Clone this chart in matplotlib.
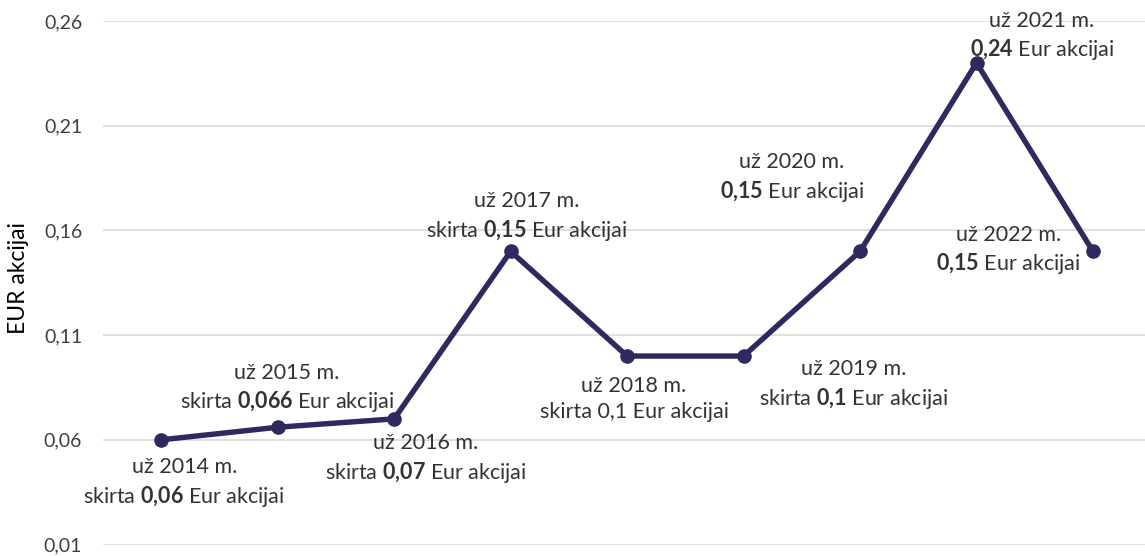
import matplotlib
matplotlib.use("Agg")
import matplotlib.pyplot as plt

plt.rcParams['font.family'] = ['Lato', 'DejaVu Sans']
plt.rcParams['mathtext.fontset'] = 'custom'
plt.rcParams['mathtext.rm'] = 'Lato'
plt.rcParams['mathtext.bf'] = 'Lato:bold'

years = ["2014", "2015", "2016", "2017", "2018", "2019", "2020", "2021", "2022"]
values = [0.06, 0.066, 0.07, 0.15, 0.10, 0.10, 0.15, 0.24, 0.15]
value_text = ["0,06", "0,066", "0,07", "0,15", "0,1", "0,1", "0,15", "0,24", "0,15"]
bold_value = [True, True, True, True, False, True, True, True, True]
has_skirta = [True, True, True, True, True, True, False, False, False]
yticks = [0.01, 0.06, 0.11, 0.16, 0.21, 0.26]
ytick_labels = ["0,01", "0,06", "0,11", "0,16", "0,21", "0,26"]
ylabel = "EUR akcijai"

# label offsets in points (dx, dy) relative to each marker, text block centered
offsets = [(16.6, -31.3), (6.5, 28), (23, -28.8), (11.5, 24.5), (5, -31),
           (79, -21), (-49, 53), (47, 19), (-61, 0.7)]

color = '#2D2A5F'
text_color = '#333333'

fig = plt.figure(figsize=(11.45, 5.56), dpi=100)
ax = fig.add_axes([103/1145, 11.5/556, (1145-103)/1145, 523.5/556])

x = list(range(len(years)))
ax.plot(x, values, color=color, lw=3.9, marker='o', markersize=9.5, zorder=3,
        solid_capstyle='round', solid_joinstyle='round')

ax.set_xlim(-0.5, (1145-161)/116.5)
ax.set_ylim(0.01, 0.26)
ax.set_yticks(yticks)
ax.set_yticklabels(ytick_labels, fontsize=14, color='#404040')
ax.set_xticks([])
ax.grid(axis='y', color='#D9D9D9', lw=1.2)
ax.set_axisbelow(True)
for s in ax.spines.values():
    s.set_visible(False)
ax.tick_params(axis='y', length=0, pad=15)
ax.set_ylabel(ylabel, fontsize=16.5, color='black')
ax.yaxis.set_label_coords(-0.071, 0.509)

for i in range(len(years)):
    v = value_text[i].replace(",", "{,}")
    val = r"$\mathbf{" + v + "}$" if bold_value[i] else value_text[i]
    line2 = ("skirta " if has_skirta[i] else "") + val + " Eur akcijai"
    txt = f"už {years[i]} m.\n" + line2
    ax.annotate(txt, xy=(x[i], values[i]), xytext=offsets[i], textcoords='offset points',
                ha='center', va='center', fontsize=15.5, color=text_color, linespacing=1.35,
                zorder=4, annotation_clip=False)

fig.savefig("out.png", dpi=100)
